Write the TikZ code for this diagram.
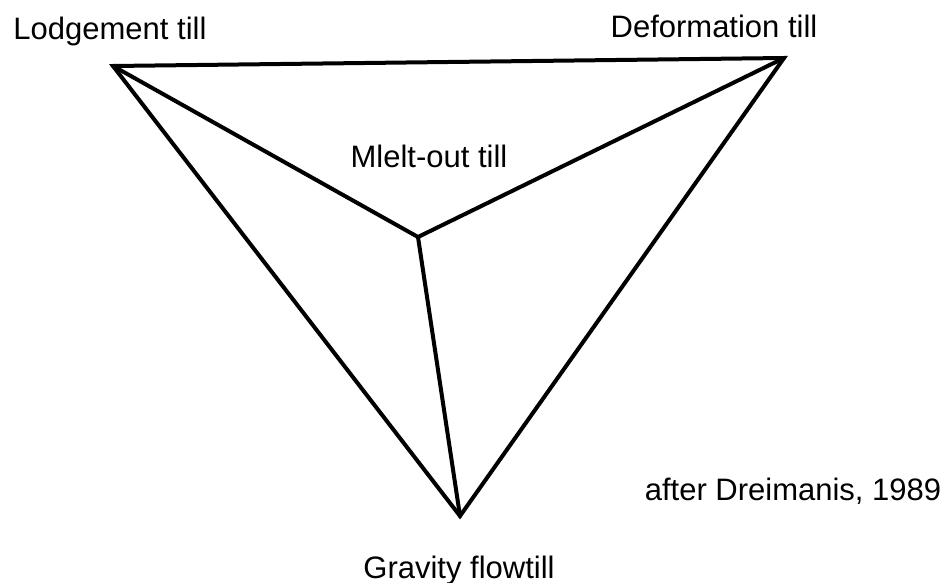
\documentclass[tikz,border=0pt]{standalone}
\usepackage{fontspec}
\setmainfont{Liberation Sans}
\begin{document}
\begin{tikzpicture}[x=1pt,y=-1pt,
  edge/.style={line width=4pt,line join=miter,line cap=round},
  lbl/.style={font=\fontsize{31}{36}\selectfont,inner sep=0pt,anchor=base}]
\useasboundingbox[fill=white] (0,0) rectangle (947,583);
\coordinate (L) at (113,66);
\coordinate (D) at (784,58);
\coordinate (M) at (418,237);
\coordinate (G) at (460,516);
\draw[edge] (L) -- (D) -- (G) -- cycle;
\draw[edge] (L) -- (M) -- (D);
\draw[edge] (M) -- (G);
\node[lbl] (lt) at (110,40) {Lodgement till};
\node[lbl] (dt) at (714,38) {Deformation till};
\node[lbl] (mt) at (429,167) {Mlelt-out till};
\node[lbl] (gt) at (459,578) {Gravity flowtill};
\node[lbl] (ad) at (793,500) {after Dreimanis, 1989};
\end{tikzpicture}
\end{document}
